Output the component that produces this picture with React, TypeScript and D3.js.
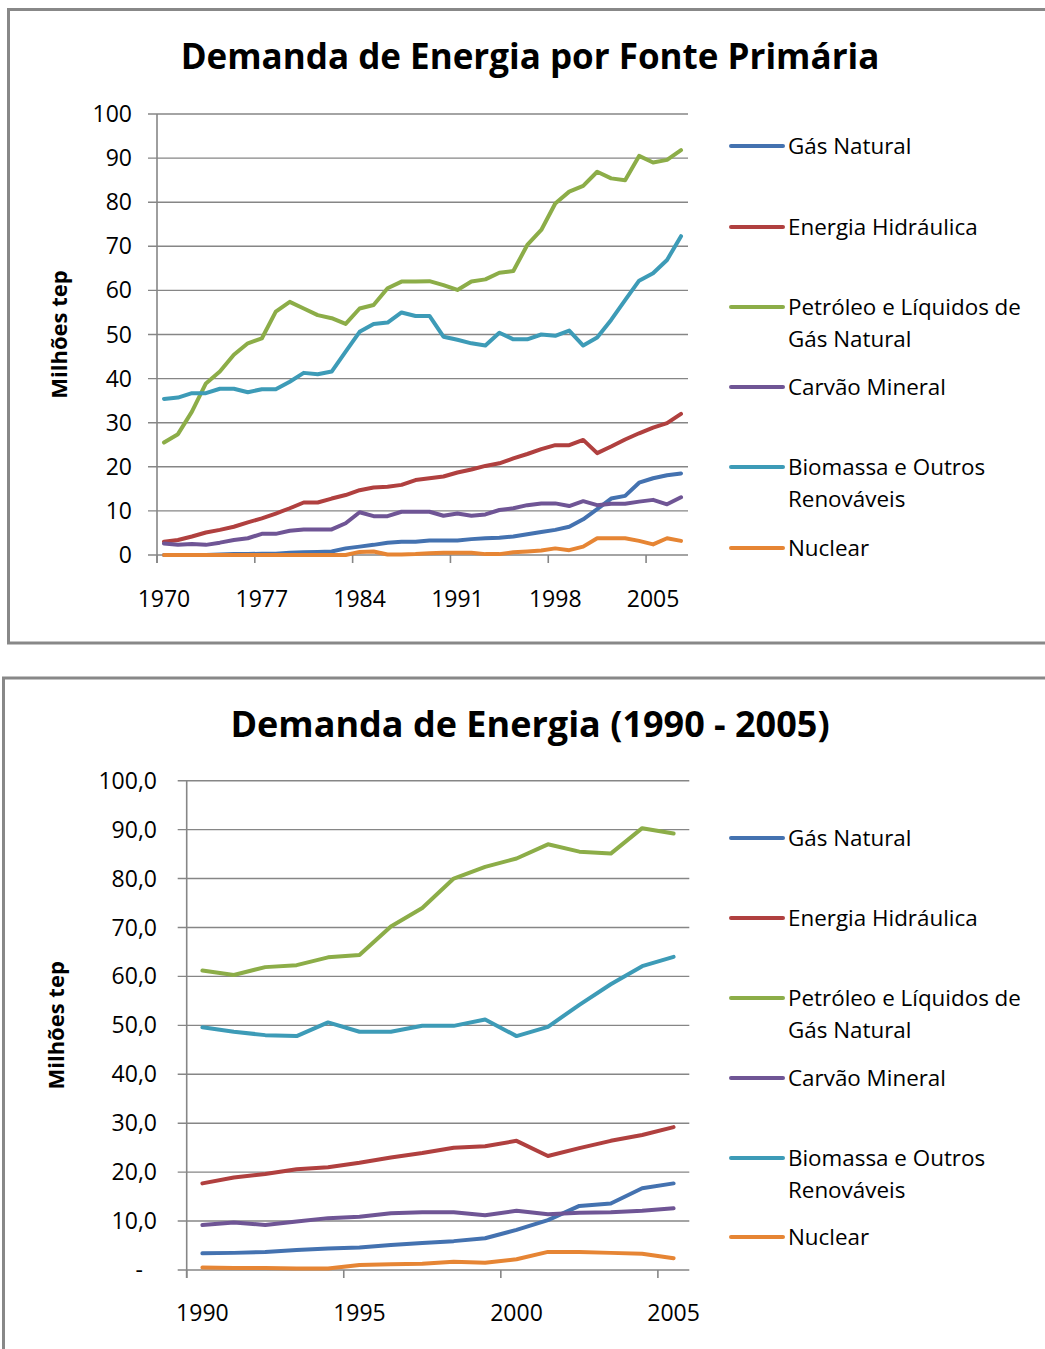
import React from "react";
import * as d3 from "d3";

const seriesNames = [
  "Gás Natural",
  "Energia Hidráulica",
  "Petróleo e Líquidos de Gás Natural",
  "Carvão Mineral",
  "Biomassa e Outros Renováveis",
  "Nuclear",
];
const legendLines = [
  ["Gás Natural"],
  ["Energia Hidráulica"],
  ["Petróleo e Líquidos de", "Gás Natural"],
  ["Carvão Mineral"],
  ["Biomassa e Outros", "Renováveis"],
  ["Nuclear"],
];
const seriesColors = ["#4472b0", "#b0403f", "#8cad48", "#6f5595", "#3d9bb7", "#e68534"];

// Top chart: 1970 - 2007
const yearsA = d3.range(1970, 2008);
const gasA = [0, 0, 0, 0, 0.1, 0.2, 0.2, 0.3, 0.3, 0.5, 0.6, 0.7, 0.8, 1.5, 1.9, 2.3, 2.8, 3.0, 3.0, 3.3, 3.3, 3.3, 3.6, 3.8, 3.9, 4.2, 4.7, 5.2, 5.7, 6.4, 8.1, 10.4, 12.8, 13.4, 16.4, 17.4, 18.1, 18.5];
const hidroA = [3.0, 3.4, 4.2, 5.1, 5.7, 6.4, 7.4, 8.3, 9.4, 10.6, 11.9, 11.9, 12.8, 13.6, 14.7, 15.3, 15.5, 15.9, 17.0, 17.4, 17.8, 18.7, 19.4, 20.2, 20.8, 21.9, 22.9, 24.0, 24.9, 24.9, 26.1, 23.1, 24.6, 26.2, 27.6, 28.9, 29.9, 32.0];
const petroA = [25.5, 27.4, 32.5, 38.9, 41.6, 45.4, 48.0, 49.1, 55.2, 57.4, 55.9, 54.4, 53.7, 52.4, 55.9, 56.7, 60.5, 62.0, 62.0, 62.1, 61.2, 60.1, 62.0, 62.5, 64.0, 64.4, 70.3, 73.7, 79.7, 82.4, 83.7, 86.9, 85.4, 85.0, 90.5, 89.0, 89.6, 91.8];
const carvaoA = [2.6, 2.3, 2.5, 2.3, 2.8, 3.4, 3.8, 4.8, 4.8, 5.5, 5.8, 5.8, 5.8, 7.2, 9.7, 8.8, 8.8, 9.8, 9.8, 9.8, 8.9, 9.4, 8.9, 9.2, 10.2, 10.6, 11.3, 11.7, 11.7, 11.1, 12.2, 11.3, 11.6, 11.6, 12.1, 12.5, 11.5, 13.1];
const bioA = [35.4, 35.7, 36.7, 36.7, 37.7, 37.7, 36.9, 37.6, 37.6, 39.3, 41.3, 41.0, 41.6, 46.1, 50.6, 52.4, 52.7, 55.0, 54.2, 54.2, 49.5, 48.8, 48.0, 47.5, 50.4, 48.9, 48.9, 50.0, 49.7, 50.9, 47.5, 49.3, 53.3, 57.8, 62.2, 63.9, 66.9, 72.3];
const nuclearA = [0, 0, 0, 0, 0, 0, 0, 0, 0, 0, 0, 0, 0, 0, 0.7, 0.8, 0.1, 0.1, 0.2, 0.4, 0.5, 0.5, 0.5, 0.2, 0.2, 0.6, 0.8, 1.0, 1.5, 1.1, 1.9, 3.8, 3.8, 3.8, 3.2, 2.4, 3.8, 3.2];
const ticksA = [0, 10, 20, 30, 40, 50, 60, 70, 80, 90, 100];
const tickLabelsA = ["0", "10", "20", "30", "40", "50", "60", "70", "80", "90", "100"];

// Bottom chart: 1990 - 2005
const yearsB = d3.range(1990, 2006);
const gasB = [3.4, 3.5, 3.7, 4.1, 4.4, 4.6, 5.1, 5.5, 5.9, 6.5, 8.2, 10.2, 13.1, 13.6, 16.7, 17.7];
const hidroB = [17.7, 18.9, 19.6, 20.6, 21.0, 21.9, 23.0, 23.9, 25.0, 25.3, 26.4, 23.3, 24.9, 26.4, 27.6, 29.2];
const petroB = [61.2, 60.3, 61.9, 62.3, 63.9, 64.4, 70.2, 74.0, 80.0, 82.4, 84.1, 87.0, 85.5, 85.1, 90.3, 89.2];
const carvaoB = [9.2, 9.7, 9.2, 9.9, 10.6, 10.9, 11.6, 11.8, 11.8, 11.2, 12.1, 11.4, 11.7, 11.8, 12.1, 12.6];
const bioB = [49.6, 48.7, 48.0, 47.8, 50.6, 48.7, 48.7, 49.9, 49.9, 51.2, 47.8, 49.7, 54.2, 58.4, 62.1, 64.0];
const nuclearB = [0.5, 0.4, 0.4, 0.3, 0.3, 1.0, 1.2, 1.3, 1.7, 1.5, 2.2, 3.7, 3.7, 3.5, 3.3, 2.4];
const ticksB = [0, 10, 20, 30, 40, 50, 60, 70, 80, 90, 100];
const tickLabelsB = ["-", "10,0", "20,0", "30,0", "40,0", "50,0", "60,0", "70,0", "80,0", "90,0", "100,0"];

const FONT = "'Open Sans', sans-serif";
const GRID = "#868686";

type ChartProps = {
  title: string;
  titleY: number;
  titleSize: number;
  years: number[];
  series: number[][];
  ticks: number[];
  tickLabels: string[];
  labelEvery: number;
  x0: number;
  x1: number;
  yTop: number;
  yBottom: number;
  labelRight: number;
  zeroLabelRight: number;
  xLabelY: number;
  yTitleX: number;
  legendY: number[];
};

function Chart(p: ChartProps) {
  const x = d3.scaleBand<number>().domain(p.years).range([p.x0, p.x1]).padding(0);
  const bw = x.bandwidth();
  const cx = (yr: number) => (x(yr) as number) + bw / 2;
  const y = d3.scaleLinear().domain([0, 100]).range([p.yBottom, p.yTop]);
  const line = d3
    .line<number>()
    .x((_, i) => cx(p.years[i]))
    .y((v) => y(v));
  const tickIdx = d3.range(0, p.years.length, p.labelEvery);
  return (
    <g>
      <text x={530} y={p.titleY} textAnchor="middle" fontFamily={FONT} fontWeight="bold" fontSize={p.titleSize} fill="#000">
        {p.title}
      </text>
      {p.ticks.map((t, i) => (
        <g key={t}>
          <line x1={p.x0 - 9} x2={p.x1} y1={y(t)} y2={y(t)} stroke={GRID} strokeWidth={1.4} />
          <text
            x={t === 0 ? p.zeroLabelRight : p.labelRight}
            y={y(t)}
            dy="0.35em"
            textAnchor="end"
            fontFamily={FONT}
            fontSize={23}
            fill="#000"
          >
            {p.tickLabels[i]}
          </text>
        </g>
      ))}
      <line x1={p.x0} x2={p.x0} y1={p.yTop} y2={p.yBottom + 8} stroke={GRID} strokeWidth={1.6} />
      {tickIdx.map((i) => (
        <g key={i}>
          <line
            x1={x(p.years[i]) as number}
            x2={x(p.years[i]) as number}
            y1={p.yBottom}
            y2={p.yBottom + 8}
            stroke={GRID}
            strokeWidth={1.6}
          />
          <text x={cx(p.years[i])} y={p.xLabelY} textAnchor="middle" fontFamily={FONT} fontSize={23} fill="#000">
            {p.years[i]}
          </text>
        </g>
      ))}
      <text
        transform={`translate(${p.yTitleX},${(p.yTop + p.yBottom) / 2}) rotate(-90)`}
        textAnchor="middle"
        fontFamily={FONT}
        fontWeight="bold"
        fontSize={22}
        fill="#000"
      >
        Milhões tep
      </text>
      {p.series.map((s, k) => (
        <path
          key={k}
          d={line(s) || ""}
          fill="none"
          stroke={seriesColors[k]}
          strokeWidth={4}
          strokeLinejoin="round"
          strokeLinecap="round"
        />
      ))}
      {legendLines.map((lines, k) => (
        <g key={k}>
          <line x1={731} x2={783} y1={p.legendY[k]} y2={p.legendY[k]} stroke={seriesColors[k]} strokeWidth={4} strokeLinecap="round" />
          {lines.map((ln, j) => (
            <text
              key={j}
              x={788}
              y={p.legendY[k] + j * 32}
              dy="0.35em"
              fontFamily={FONT}
              fontSize={22.4}
              fill="#000"
              aria-label={j === 0 ? seriesNames[k] : undefined}
            >
              {ln}
            </text>
          ))}
        </g>
      ))}
    </g>
  );
}

export default function App() {
  return (
    <svg
      width={1045}
      height={1349}
      style={{ position: "absolute", left: 0, top: 0, display: "block", background: "#fff" }}
    >
      <rect x={0} y={0} width={1045} height={1349} fill="#fff" />
      <rect x={8.5} y={9.5} width={1060} height={633.5} fill="none" stroke="#888" strokeWidth={3} />
      <rect x={3.5} y={678} width={1060} height={700} fill="none" stroke="#888" strokeWidth={3} />
      <Chart
        title="Demanda de Energia por Fonte Primária"
        titleY={69}
        titleSize={35}
        years={yearsA}
        series={[gasA, hidroA, petroA, carvaoA, bioA, nuclearA]}
        ticks={ticksA}
        tickLabels={tickLabelsA}
        labelEvery={7}
        x0={157}
        x1={688}
        yTop={114}
        yBottom={555}
        labelRight={132}
        zeroLabelRight={132}
        xLabelY={607}
        yTitleX={67}
        legendY={[146, 227, 307, 387, 467, 548]}
      />
      <Chart
        title="Demanda de Energia (1990 - 2005)"
        titleY={737}
        titleSize={36}
        years={yearsB}
        series={[gasB, hidroB, petroB, carvaoB, bioB, nuclearB]}
        ticks={ticksB}
        tickLabels={tickLabelsB}
        labelEvery={5}
        x0={186.7}
        x1={689.3}
        yTop={780.7}
        yBottom={1270}
        labelRight={157}
        zeroLabelRight={143}
        xLabelY={1321}
        yTitleX={64}
        legendY={[838, 918, 998, 1078, 1158, 1237]}
      />
    </svg>
  );
}
